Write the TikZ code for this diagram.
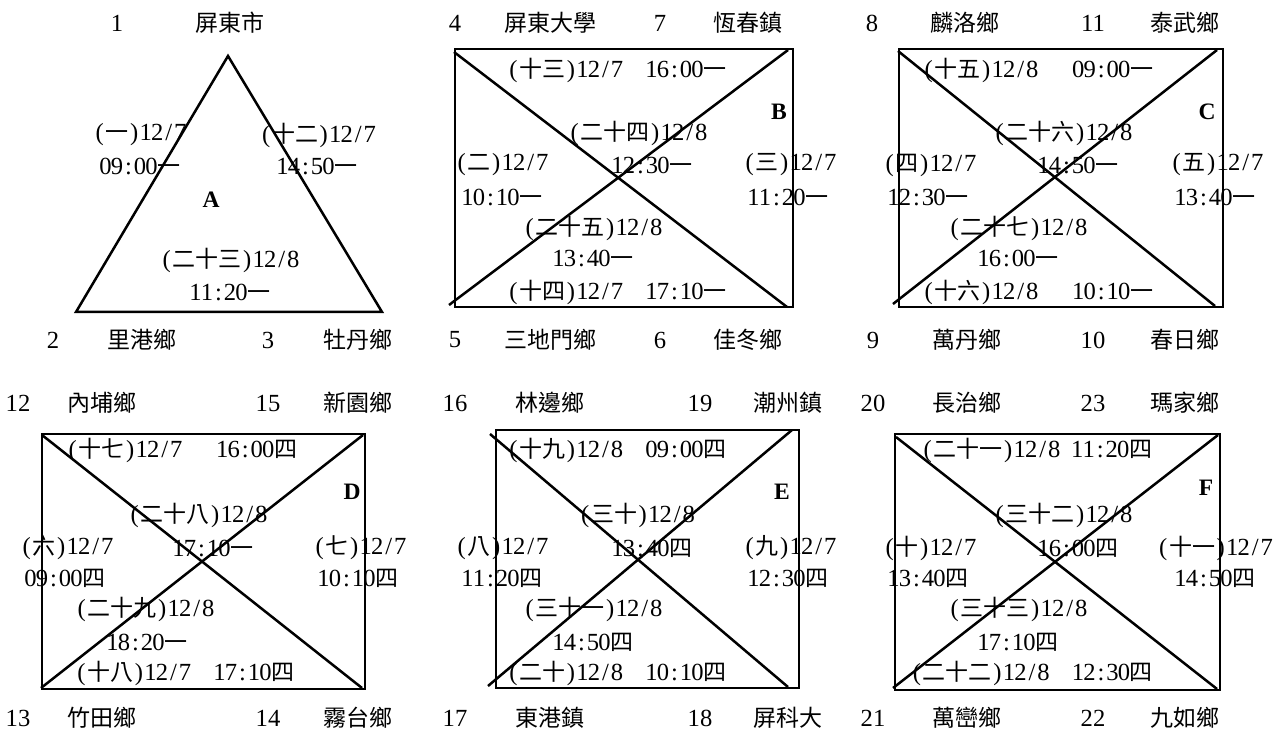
\documentclass[tikz,border=0pt]{standalone}
\usepackage{fontspec}
\setmainfont{Liberation Serif}[Scale=1.07]
\newfontfamily\cjkf{Noto Sans CJK TC}
\makeatletter
\def\mz#1{\mz@#1\mz@end}
\def\mz@#1{\ifx#1\mz@end\else\mz@char{#1}\expandafter\mz@\fi}
\def\mz@char#1{\ifnum`#1<256 \makebox[5.75pt]{#1}\else{\cjkf #1}\fi}
\makeatother
\tikzset{
  tx/.style={inner sep=0pt, font=\fontsize{11.5}{13}\selectfont},
  lt/.style={inner sep=0pt, font=\fontsize{11}{13}\selectfont\bfseries},
  ln/.style={line width=1.25pt, line join=miter},
}
\begin{document}
\begin{tikzpicture}[x=0.5pt,y=-0.5pt]
\useasboundingbox (0,0) rectangle (1277,731);
% ---------- shapes ----------
% A
\coordinate (Atop) at (228,56); \coordinate (Abl) at (76,312); \coordinate (Abr) at (382,312);
\draw[ln] (Atop) -- (Abr) -- (Abl) -- cycle;
% B
\coordinate (Bnw) at (455,49); \coordinate (Bse) at (793,307);
\draw[ln] (Bnw) rectangle (Bse);
\coordinate (Bd1a) at (454,52); \coordinate (Bd1b) at (787,307);
\coordinate (Bd2a) at (449,305); \coordinate (Bd2b) at (788,50);
\draw[ln] (Bd1a) -- (Bd1b); \draw[ln] (Bd2a) -- (Bd2b);
% C
\coordinate (Cnw) at (899,49); \coordinate (Cse) at (1223,307);
\draw[ln] (Cnw) rectangle (Cse);
\coordinate (Cd1a) at (898,51); \coordinate (Cd1b) at (1215,306);
\coordinate (Cd2a) at (893,304); \coordinate (Cd2b) at (1217,50);
\draw[ln] (Cd1a) -- (Cd1b); \draw[ln] (Cd2a) -- (Cd2b);
% D
\coordinate (Dnw) at (42,434); \coordinate (Dse) at (365,689);
\draw[ln] (Dnw) rectangle (Dse);
\coordinate (Dd1a) at (42,435); \coordinate (Dd1b) at (362,688);
\coordinate (Dd2a) at (41,688); \coordinate (Dd2b) at (363,435);
\draw[ln] (Dd1a) -- (Dd1b); \draw[ln] (Dd2a) -- (Dd2b);
% E
\coordinate (Enw) at (496,430); \coordinate (Ese) at (799,688);
\draw[ln] (Enw) rectangle (Ese);
\coordinate (Ed1a) at (490,434); \coordinate (Ed1b) at (788,687);
\coordinate (Ed2a) at (488,686); \coordinate (Ed2b) at (792,430);
\draw[ln] (Ed1a) -- (Ed1b); \draw[ln] (Ed2a) -- (Ed2b);
% F
\coordinate (Fnw) at (895,434); \coordinate (Fse) at (1220,690);
\draw[ln] (Fnw) rectangle (Fse);
\coordinate (Fd1a) at (896,437); \coordinate (Fd1b) at (1217,689);
\coordinate (Fd2a) at (893,688); \coordinate (Fd2b) at (1218,435);
\draw[ln] (Fd1a) -- (Fd1b); \draw[ln] (Fd2a) -- (Fd2b);
% ---------- group A texts ----------
\node[tx] (a1) at (117,23) {1};
\node[tx] (a2) at (230,23) {\mz{屏東市}};
\node[tx] (a3) at (140,135) {\mz{(一)12/7}};
\node[tx] (a4) at (140,166) {\mz{09:00一}};
\node[tx] (a5) at (318,135) {\mz{(十二)12/7}};
\node[tx] (a6) at (317,166) {\mz{14:50一}};
\node[lt] (aL) at (211,200) {A};
\node[tx] (a7) at (230,260) {\mz{(二十三)12/8}};
\node[tx] (a8) at (230,292) {\mz{11:20一}};
\node[tx] (a9) at (53,340) {2};
\node[tx] (a10) at (142,340) {\mz{里港鄉}};
\node[tx] (a11) at (268,340) {3};
\node[tx] (a12) at (358,340) {\mz{牡丹鄉}};
% ---------- group B texts ----------
\node[tx] (b1) at (455,23) {4};
\node[tx] (b2) at (550,23) {\mz{屏東大學}};
\node[tx] (b3) at (660,23) {7};
\node[tx] (b4) at (748,23) {\mz{恆春鎮}};
\node[tx] (b5) at (617,70) {\mz{(十三)12/7~~16:00一}};
\node[lt] (bL) at (779,112) {B};
\node[tx] (b6) at (638,133) {\mz{(二十四)12/8}};
\node[tx] (b7) at (652,165) {\mz{12:30一}};
\node[tx] (b8) at (502,165) {\mz{(二)12/7}};
\node[tx] (b9) at (502,197) {\mz{10:10一}};
\node[tx] (b10) at (790,165) {\mz{(三)12/7}};
\node[tx] (b11) at (788,197) {\mz{11:20一}};
\node[tx] (b12) at (593,228) {\mz{(二十五)12/8}};
\node[tx] (b13) at (593,258) {\mz{13:40一}};
\node[tx] (b14) at (617,292) {\mz{(十四)12/7~~17:10一}};
\node[tx] (b15) at (455,340) {5};
\node[tx] (b16) at (550,340) {\mz{三地門鄉}};
\node[tx] (b17) at (660,340) {6};
\node[tx] (b18) at (748,340) {\mz{佳冬鄉}};
% ---------- group C texts ----------
\node[tx] (c1) at (872,23) {8};
\node[tx] (c2) at (965,23) {\mz{麟洛鄉}};
\node[tx] (c3) at (1093,23) {11};
\node[tx] (c4) at (1185,23) {\mz{泰武鄉}};
\node[tx] (c5) at (1038,70) {\mz{(十五)12/8~~~09:00一}};
\node[lt] (cL) at (1207,112) {C};
\node[tx] (c6) at (1063,133) {\mz{(二十六)12/8}};
\node[tx] (c7) at (1078,165) {\mz{14:50一}};
\node[tx] (c8) at (930,165) {\mz{(四)12/7}};
\node[tx] (c9) at (928,197) {\mz{12:30一}};
\node[tx] (c10) at (1217,165) {\mz{(五)12/7}};
\node[tx] (c11) at (1215,197) {\mz{13:40一}};
\node[tx] (c12) at (1018,228) {\mz{(二十七)12/8}};
\node[tx] (c13) at (1018,258) {\mz{16:00一}};
\node[tx] (c14) at (1038,292) {\mz{(十六)12/8~~~10:10一}};
\node[tx] (c15) at (873,340) {9};
\node[tx] (c16) at (967,340) {\mz{萬丹鄉}};
\node[tx] (c17) at (1093,340) {10};
\node[tx] (c18) at (1185,340) {\mz{春日鄉}};
% ---------- group D texts ----------
\node[tx] (d1) at (18,403) {12};
\node[tx] (d2) at (102,403) {\mz{內埔鄉}};
\node[tx] (d3) at (268,403) {15};
\node[tx] (d4) at (358,403) {\mz{新園鄉}};
\node[tx] (d5) at (182,450) {\mz{(十七)12/7~~~16:00四}};
\node[lt] (dL) at (352,492) {D};
\node[tx] (d6) at (198,515) {\mz{(二十八)12/8}};
\node[tx] (d7) at (213,548) {\mz{17:10一}};
\node[tx] (d8) at (67,548) {\mz{(六)12/7}};
\node[tx] (d9) at (65,578) {\mz{09:00四}};
\node[tx] (d10) at (360,548) {\mz{(七)12/7}};
\node[tx] (d11) at (358,578) {\mz{10:10四}};
\node[tx] (d12) at (145,609) {\mz{(二十九)12/8}};
\node[tx] (d13) at (147,642) {\mz{18:20一}};
\node[tx] (d14) at (185,673) {\mz{(十八)12/7~~17:10四}};
\node[tx] (d15) at (18,718) {13};
\node[tx] (d16) at (102,718) {\mz{竹田鄉}};
\node[tx] (d17) at (268,718) {14};
\node[tx] (d18) at (358,718) {\mz{霧台鄉}};
% ---------- group E texts ----------
\node[tx] (e1) at (455,403) {16};
\node[tx] (e2) at (550,403) {\mz{林邊鄉}};
\node[tx] (e3) at (700,403) {19};
\node[tx] (e4) at (788,403) {\mz{潮州鎮}};
\node[tx] (e5) at (617,450) {\mz{(十九)12/8~~09:00四}};
\node[lt] (eL) at (782,492) {E};
\node[tx] (e6) at (637,515) {\mz{(三十)12/8}};
\node[tx] (e7) at (652,548) {\mz{13:40四}};
\node[tx] (e8) at (502,548) {\mz{(八)12/7}};
\node[tx] (e9) at (502,578) {\mz{11:20四}};
\node[tx] (e10) at (790,548) {\mz{(九)12/7}};
\node[tx] (e11) at (788,578) {\mz{12:30四}};
\node[tx] (e12) at (593,609) {\mz{(三十一)12/8}};
\node[tx] (e13) at (593,642) {\mz{14:50四}};
\node[tx] (e14) at (617,673) {\mz{(二十)12/8~~10:10四}};
\node[tx] (e15) at (455,718) {17};
\node[tx] (e16) at (550,718) {\mz{東港鎮}};
\node[tx] (e17) at (700,718) {18};
\node[tx] (e18) at (788,718) {\mz{屏科大}};
% ---------- group F texts ----------
\node[tx] (f1) at (873,403) {20};
\node[tx] (f2) at (967,403) {\mz{長治鄉}};
\node[tx] (f3) at (1093,403) {23};
\node[tx] (f4) at (1185,403) {\mz{瑪家鄉}};
\node[tx] (f5) at (1037,450) {\mz{(二十一)12/8~11:20四}};
\node[lt] (fL) at (1206,488) {F};
\node[tx] (f6) at (1063,515) {\mz{(三十二)12/8}};
\node[tx] (f7) at (1078,548) {\mz{16:00四}};
\node[tx] (f8) at (930,548) {\mz{(十)12/7}};
\node[tx] (f9) at (928,578) {\mz{13:40四}};
\node[tx] (f10) at (1215,548) {\mz{(十一)12/7}};
\node[tx] (f11) at (1215,578) {\mz{14:50四}};
\node[tx] (f12) at (1018,609) {\mz{(三十三)12/8}};
\node[tx] (f13) at (1018,642) {\mz{17:10四}};
\node[tx] (f14) at (1032,673) {\mz{(二十二)12/8~~12:30四}};
\node[tx] (f15) at (873,718) {21};
\node[tx] (f16) at (967,718) {\mz{萬巒鄉}};
\node[tx] (f17) at (1093,718) {22};
\node[tx] (f18) at (1185,718) {\mz{九如鄉}};
\end{tikzpicture}
\end{document}
